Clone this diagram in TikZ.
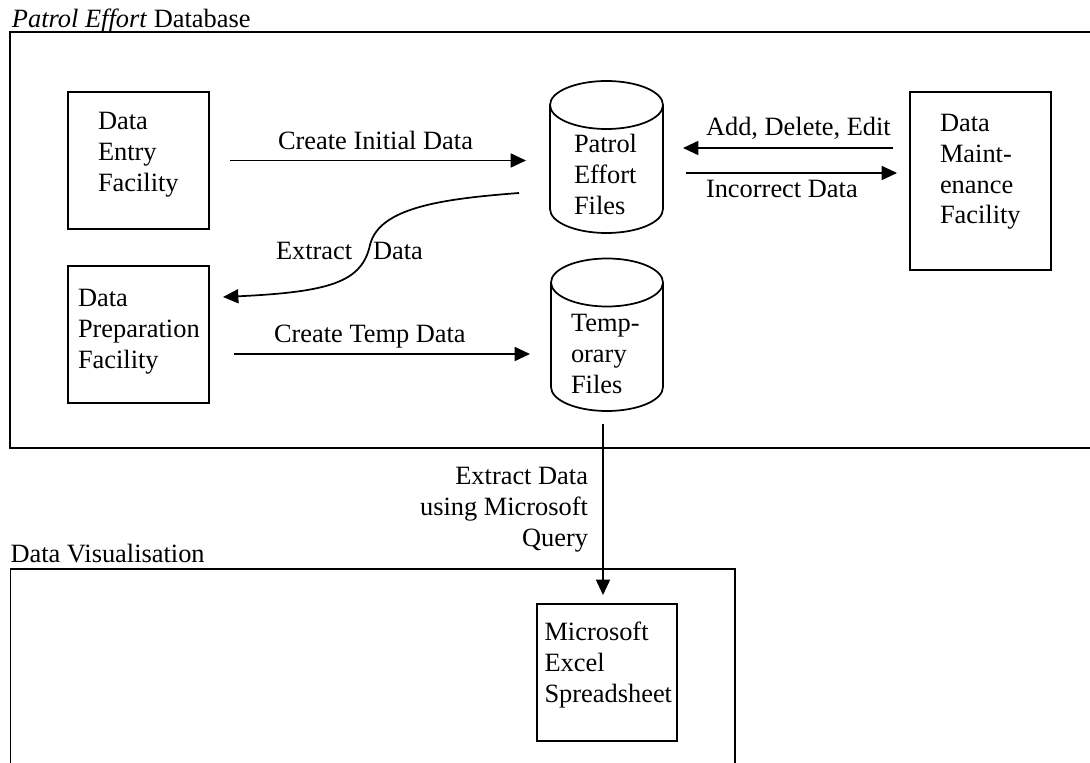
\documentclass[tikz,border=0pt]{standalone}
\usepackage{fontspec}
\setmainfont{Liberation Serif}
\usetikzlibrary{arrows.meta}
\newlength\px \setlength\px{0.75pt}
\begin{document}
\begin{tikzpicture}[x=0.75pt, y=-0.75pt, line width=1.3pt,
  every node/.style={font=\fontsize{19.8}{23}\selectfont, inner sep=0pt, outer sep=0pt},
  box/.style={draw, line width=1.3pt},
  lbl/.style={anchor=base west},
  txt/.style={anchor=north west, align=left},
  txtr/.style={anchor=north east, align=right},
  arr/.style={-{Triangle[length=11.5pt,width=10.5pt]}, line width=1.3pt}]
\useasboundingbox (0,0) rectangle (1090,763);
\clip (0,0) rectangle (1090,763);

% containers
\draw (10,32) rectangle (1100,448);
\draw (10.5,569) rectangle (735,790);
\node[lbl] (t1) at (12,28) {\textit{Patrol Effort} Database};
\node[lbl] (t2) at (10.5,562) {Data Visualisation};

% boxes
\node[box, minimum width=141\px, minimum height=137\px] (entry) at (138.5,160.5) {};
\node[txt] (entryt) at (98,108.5) {\strut Data\\Entry\\Facility};
\node[box, minimum width=141\px, minimum height=137\px] (prep) at (138.5,334.5) {};
\node[txt] (prept) at (78,285.5) {\strut Data\\Preparation\\Facility};
\node[box, minimum width=141\px, minimum height=178\px] (maint) at (980.5,181) {};
\node[txt] (maintt) at (940,110.5) {\strut Data\\Maint-\\enance\\Facility};
\node[box, minimum width=140\px, minimum height=137\px] (excel) at (607,672.5) {};
\node[txt] (excelt) at (544.5,619.5) {\strut Microsoft\\Excel\\Spreadsheet};

% cylinders
\node[minimum width=113\px, minimum height=152\px] (pef) at (606.5,157) {};
\draw (606.5,105) ellipse [x radius=56.5\px, y radius=24\px];
\draw (550,105) -- (550,209) arc[start angle=180, end angle=360, x radius=56.5\px, y radius=24\px] -- (663,105);
\node[txt] (peft) at (574,131.5) {\strut Patrol\\Effort\\Files};

\node[minimum width=112\px, minimum height=153\px] (tmp) at (607,334.5) {};
\draw (607,282.5) ellipse [x radius=56\px, y radius=24\px];
\draw (551,282.5) -- (551,387) arc[start angle=180, end angle=360, x radius=56\px, y radius=24\px] -- (663,282.5);
\node[txt] (tmpt) at (571,310.5) {\strut Temp-\\orary\\Files};

% connectors
\draw[arr, shorten <=21\px, shorten >=24\px] (entry.east) -- (entry.east -| pef.west);
\node[lbl] (l1) at (278,150) {Create Initial Data};

\coordinate (a1) at ([yshift=33\px]maint.west);
\draw[arr, shorten <=17\px, shorten >=20\px] (a1) -- (a1 -| pef.east);
\node[lbl] (l2) at (706,136) {Add, Delete, Edit};

\coordinate (a2) at ([yshift=8\px]maint.west);
\draw[arr, shorten <=23\px, shorten >=13\px] (a2 -| pef.east) -- (a2);
\node[lbl] (l3) at (706,198) {Incorrect Data};

\coordinate (e1) at ([xshift=-31\px, yshift=-36\px]pef.west);
\coordinate (e2) at ([xshift=14\px, yshift=37.5\px]prep.east);
\draw[arr] (e1) .. controls (440,199) and (379,208) .. (370,245)
  .. controls (362,282) and (330,292) .. (e2);
\node[lbl] (l4a) at (276,260) {Extract};
\node[lbl] (l4b) at (373,260) {Data};

\coordinate (c1) at ([yshift=-19.5\px]prep.east);
\draw[arr, shorten <=25\px, shorten >=21\px] (c1) -- (c1 -| tmp.west);
\node[lbl] (l5) at (274,343) {Create Temp Data};

\draw[arr, shorten <=13\px, shorten >=9\px] ([xshift=-4\px]tmp.south) -- ([xshift=-4\px]excel.north);
\node[txtr] (l6) at (588,463.5) {\strut Extract Data\\using Microsoft\\Query};
\end{tikzpicture}
\end{document}
